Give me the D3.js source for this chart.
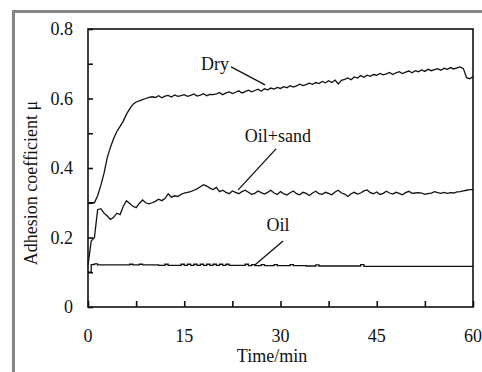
<!DOCTYPE html>
<html>
<head>
<meta charset="utf-8">
<script src="https://cdn.jsdelivr.net/npm/d3@7"></script>
<style>
  html, body { margin: 0; padding: 0; background: #fff; }
  svg { display: block; }
</style>
</head>
<body>
<svg id="chart" width="482" height="372"></svg>
<script>
// Sampling interval of the friction tests (minutes)
const timeStep = 0.5;
const timeMax = 60;

// Adhesion coefficient, one reading per half minute, 0 … 60 min
const dry = [
  .300,.300,.300,.320,.350,.385,.430,.460,.485,.505,
  .520,.535,.555,.570,.583,.590,.593,.597,.600,.603,
  .605,.603,.608,.602,.607,.609,.604,.610,.606,.608,
  .611,.606,.609,.613,.607,.610,.614,.608,.612,.611,
  .613,.617,.611,.616,.619,.614,.618,.622,.616,.620,
  .624,.619,.623,.627,.621,.628,.625,.630,.627,.632,
  .629,.634,.631,.637,.633,.636,.641,.637,.640,.644,
  .641,.646,.643,.649,.645,.651,.646,.653,.642,.652,
  .655,.659,.654,.662,.659,.666,.661,.667,.664,.669,
  .667,.672,.668,.671,.675,.669,.674,.677,.672,.676,
  .679,.674,.680,.677,.682,.678,.684,.680,.683,.686,
  .681,.687,.684,.689,.685,.688,.691,.686,.660,.657,
  .663
];

const oilSand = [
  .120,.190,.200,.280,.283,.270,.262,.252,.258,.270,
  .266,.290,.306,.298,.290,.286,.298,.308,.300,.297,
  .300,.304,.310,.306,.312,.326,.316,.320,.318,.324,
  .328,.330,.332,.336,.340,.346,.352,.348,.342,.338,
  .344,.332,.336,.330,.326,.334,.330,.326,.332,.336,
  .330,.324,.327,.334,.329,.325,.330,.336,.328,.324,
  .332,.326,.322,.329,.334,.326,.323,.330,.327,.321,
  .328,.333,.326,.324,.330,.327,.323,.331,.336,.328,
  .325,.318,.326,.330,.325,.328,.334,.337,.329,.326,
  .331,.324,.327,.333,.328,.325,.330,.327,.323,.329,
  .333,.327,.328,.329,.328,.324,.326,.328,.332,.329,
  .327,.330,.327,.329,.328,.331,.332,.334,.336,.338,
  .338
];

const oil = [
  .100,.122,.124,.121,.121,.121,.121,.121,.121,.121,
  .121,.121,.121,.123,.121,.121,.123,.121,.121,.121,
  .121,.121,.120,.120,.123,.120,.120,.120,.120,.123,
  .120,.123,.120,.123,.120,.123,.120,.123,.120,.123,
  .120,.123,.120,.123,.120,.120,.120,.120,.120,.123,
  .119,.122,.119,.119,.122,.119,.119,.119,.122,.119,
  .119,.119,.119,.122,.119,.119,.119,.119,.118,.118,
  .118,.121,.118,.118,.118,.118,.118,.118,.118,.118,
  .118,.118,.118,.118,.118,.122,.117,.117,.117,.117,
  .117,.117,.117,.117,.117,.117,.117,.117,.117,.117,
  .117,.117,.117,.117,.117,.117,.117,.117,.117,.117,
  .117,.117,.117,.117,.117,.117,.117,.117,.117,.117,
  .117
];

// Axis ticks
const xTickLabels = [0, 15, 30, 45, 60];
const xTickMinor = [0, 7.5, 15, 22.5, 30, 37.5, 45, 52.5, 60];
const yTickLabels = [0, 0.2, 0.4, 0.6, 0.8];
const yTickMinor = [0, 0.1, 0.2, 0.3, 0.4, 0.5, 0.6, 0.7, 0.8];

// Curve labels with their leader lines (data coordinates)
const labels = [
  { text: "Dry",      x: 19.8, y: 0.682, from: [22.3, 0.691], to: [27.6, 0.639] },
  { text: "Oil+sand", x: 29.6, y: 0.475, from: [29.3, 0.455], to: [23.4, 0.337] },
  { text: "Oil",      x: 29.6, y: 0.219, from: [30.4, 0.190], to: [26.0, 0.121] }
];

const FONT = "'Liberation Serif', 'Times New Roman', serif";

const svg = d3.select("#chart").attr("font-family", FONT);
const W = 482, H = 372;
const plot = { left: 88, right: 473, top: 29, bottom: 307 };

const x = d3.scaleLinear().domain([0, timeMax]).range([plot.left, plot.right]);
const y = d3.scaleLinear().domain([0, 0.8]).range([plot.bottom, plot.top]);

const time = d3.range(0, timeMax + timeStep / 2, timeStep);

// Outer grey page frame
svg.append("line").attr("x1", 12).attr("x2", W).attr("y1", 11.5).attr("y2", 11.5)
  .attr("stroke", "#858585").attr("stroke-width", 3);
svg.append("line").attr("x1", 13.5).attr("x2", 13.5).attr("y1", 10).attr("y2", H)
  .attr("stroke", "#858585").attr("stroke-width", 3);

// Series curves
const line = d3.line().x((d, i) => x(time[i])).y(d => y(d));
const stepLine = d3.line().x((d, i) => x(time[i])).y(d => y(d)).curve(d3.curveStepAfter);

svg.append("path").datum(dry).attr("d", line)
  .attr("fill", "none").attr("stroke", "#111").attr("stroke-width", 1.3);
svg.append("path").datum(oilSand).attr("d", line)
  .attr("fill", "none").attr("stroke", "#111").attr("stroke-width", 1.3);
svg.append("path").datum(oil).attr("d", stepLine)
  .attr("fill", "none").attr("stroke", "#111").attr("stroke-width", 1.3);

// Plot frame
svg.append("rect")
  .attr("x", plot.left).attr("y", plot.top)
  .attr("width", plot.right - plot.left).attr("height", plot.bottom - plot.top)
  .attr("fill", "none").attr("stroke", "#111").attr("stroke-width", 1.6);

// Inward ticks on bottom and left axes
const xAxis = d3.axisBottom(x).tickValues(xTickMinor).tickSize(-6).tickFormat("");
svg.append("g").attr("transform", `translate(0,${plot.bottom})`).call(xAxis)
  .call(g => g.select(".domain").remove())
  .call(g => g.selectAll("line").attr("stroke", "#111").attr("stroke-width", 1.6));

const yAxis = d3.axisLeft(y).tickValues(yTickMinor).tickSize(-5).tickFormat("");
svg.append("g").attr("transform", `translate(${plot.left},0)`).call(yAxis)
  .call(g => g.select(".domain").remove())
  .call(g => g.selectAll("line").attr("stroke", "#111").attr("stroke-width", 1.6));

// Tick labels
svg.append("g").selectAll("text").data(xTickLabels).join("text")
  .attr("x", d => x(d)).attr("y", 342)
  .attr("text-anchor", "middle").attr("font-size", 18)
  .attr("font-family", FONT).attr("fill", "#111")
  .text(d => d);

svg.append("g").selectAll("text").data(yTickLabels).join("text")
  .attr("x", 73).attr("y", d => y(d)).attr("dy", "0.34em")
  .attr("text-anchor", "end").attr("font-size", 18)
  .attr("font-family", FONT).attr("fill", "#111")
  .text(d => d === 0 ? "0" : d3.format(".1f")(d));

// Axis titles
svg.append("text").attr("x", 272).attr("y", 362)
  .attr("text-anchor", "middle").attr("font-size", 18)
  .attr("font-family", FONT).attr("fill", "#111").text("Time/min");
svg.append("text").attr("transform", "translate(37,183) rotate(-90)")
  .attr("text-anchor", "middle").attr("font-size", 18)
  .attr("font-family", FONT).attr("fill", "#111").text("Adhesion coefficient μ");

// Curve labels
const ann = svg.append("g");
labels.forEach(l => {
  ann.append("text").attr("x", x(l.x)).attr("y", y(l.y))
    .attr("text-anchor", "middle").attr("font-size", 18)
    .attr("font-family", FONT).attr("fill", "#111").text(l.text);
  ann.append("line")
    .attr("x1", x(l.from[0])).attr("y1", y(l.from[1]))
    .attr("x2", x(l.to[0])).attr("y2", y(l.to[1]))
    .attr("stroke", "#111").attr("stroke-width", 1.3);
});
</script>
</body>
</html>
